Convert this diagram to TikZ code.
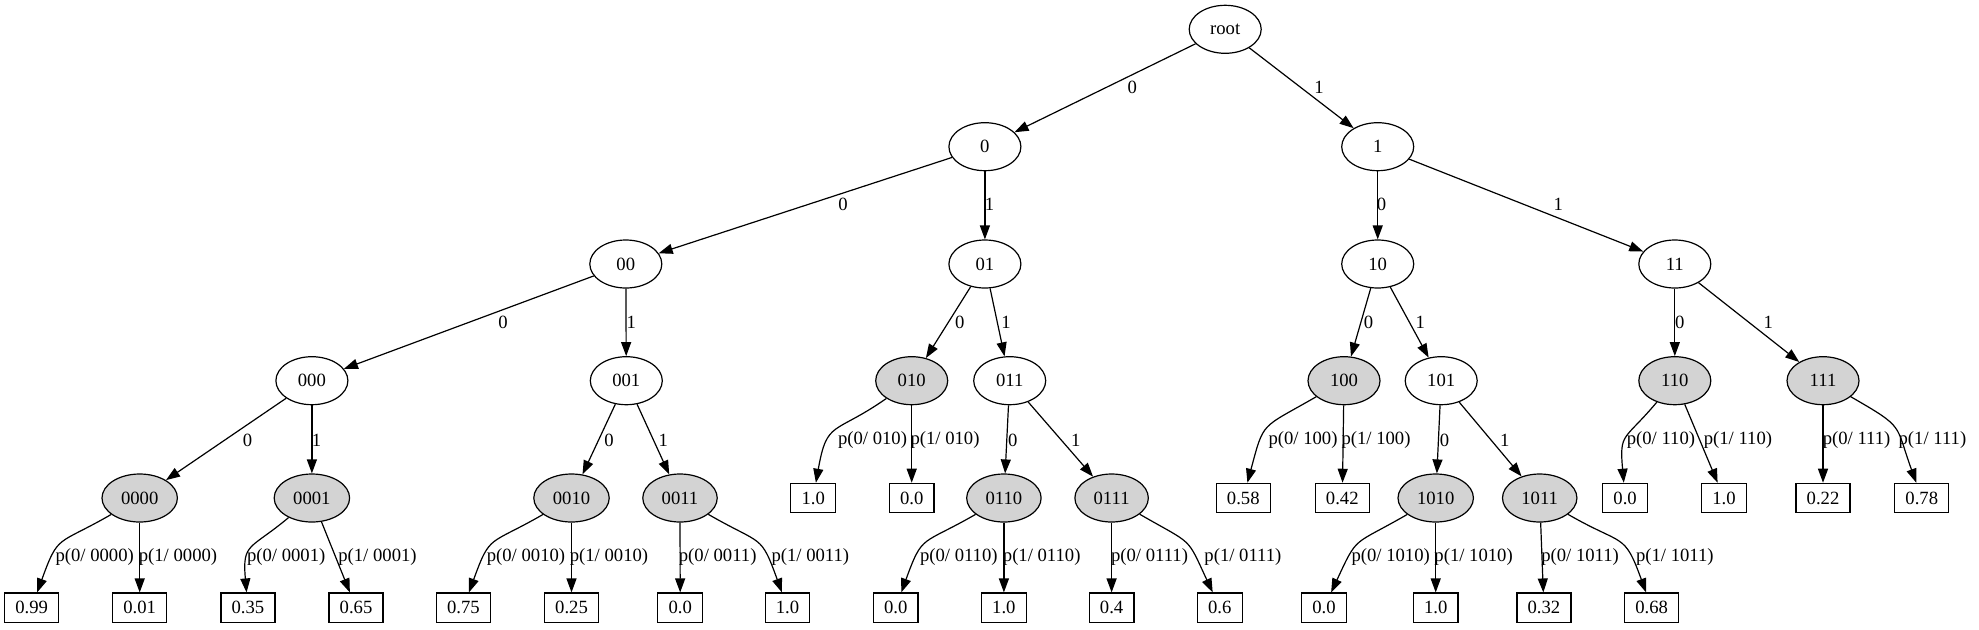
\documentclass[tikz,border=0pt]{standalone}
\usepackage{fontspec}
\setmainfont{Liberation Serif}
\usetikzlibrary{arrows.meta,shapes.geometric}
\definecolor{gvgray}{HTML}{D3D3D3}
\begin{document}
\begin{tikzpicture}[x=0.75pt,y=0.75pt,
  font=\fontsize{14pt}{16pt}\selectfont,
  st/.style={ellipse,draw,line width=0.9pt,minimum width=54pt,minimum height=36pt,inner xsep=6pt,inner ysep=0pt},
  gst/.style={st,fill=gvgray},
  leaf/.style={rectangle,draw,line width=0.9pt,minimum height=22pt,inner xsep=8pt,inner ysep=0pt},
  edge/.style={line width=0.9pt,-{Triangle[length=10.5pt,width=7.5pt]}},
  lbl/.style={inner sep=0pt}
]
\useasboundingbox (0,0) rectangle (1979,-629);
% level 0-3
\node[st] (root) at (1225.2,-29.3) {root};
\node[st] (n0) at (984.9,-146.7) {0};
\node[st] (n1) at (1377.7,-146.7) {1};
\node[st] (n00) at (625.8,-264) {00};
\node[st] (n01) at (984.9,-264) {01};
\node[st] (n10) at (1377.7,-264) {10};
\node[st] (n11) at (1674.8,-264) {11};
\node[st] (n000) at (311.9,-380.7) {000};
\node[st] (n001) at (626.3,-380.7) {001};
\node[gst] (n010) at (911.7,-380.7) {010};
\node[st] (n011) at (1009.7,-380.7) {011};
\node[gst] (n100) at (1344,-380.7) {100};
\node[st] (n101) at (1441.2,-380.7) {101};
\node[gst] (n110) at (1674.8,-380.7) {110};
\node[gst] (n111) at (1823,-380.7) {111};
% level 4
\node[gst] (n0000) at (139.7,-498) {0000};
\node[gst] (n0001) at (311.9,-498) {0001};
\node[gst] (n0010) at (571.5,-498) {0010};
\node[gst] (n0011) at (680,-498) {0011};
\node[gst] (n0110) at (1003.9,-498) {0110};
\node[gst] (n0111) at (1111.6,-498) {0111};
\node[gst] (n1010) at (1435.7,-498) {1010};
\node[gst] (n1011) at (1539.7,-498) {1011};
% boxes on level 4
\node[leaf] (b010a) at (813.2,-498) {1.0};
\node[leaf] (b010b) at (911.7,-498) {0.0};
\node[leaf] (b100a) at (1243.3,-498) {0.58};
\node[leaf] (b100b) at (1342.3,-498) {0.42};
\node[leaf] (b110a) at (1625.1,-498) {0.0};
\node[leaf] (b110b) at (1724,-498) {1.0};
\node[leaf] (b111a) at (1823,-498) {0.22};
\node[leaf] (b111b) at (1921.8,-498) {0.78};
% bottom boxes
\node[leaf] (b0000a) at (31.6,-607.7) {0.99};
\node[leaf] (b0000b) at (139.7,-607.7) {0.01};
\node[leaf] (b0001a) at (247.9,-607.7) {0.35};
\node[leaf] (b0001b) at (356,-607.7) {0.65};
\node[leaf] (b0010a) at (463.4,-607.7) {0.75};
\node[leaf] (b0010b) at (571.5,-607.7) {0.25};
\node[leaf] (b0011a) at (680.2,-607.7) {0.0};
\node[leaf] (b0011b) at (787.5,-607.7) {1.0};
\node[leaf] (b0110a) at (895.7,-607.7) {0.0};
\node[leaf] (b0110b) at (1003.9,-607.7) {1.0};
\node[leaf] (b0111a) at (1111.6,-607.7) {0.4};
\node[leaf] (b0111b) at (1219.8,-607.7) {0.6};
\node[leaf] (b1010a) at (1324,-607.7) {0.0};
\node[leaf] (b1010b) at (1435.7,-607.7) {1.0};
\node[leaf] (b1011a) at (1543.9,-607.7) {0.32};
\node[leaf] (b1011b) at (1651.6,-607.7) {0.68};
% straight edges
\foreach \a/\b in {root/n0,root/n1,n0/n00,n0/n01,n1/n10,n1/n11,
  n00/n000,n00/n001,n01/n010,n01/n011,n10/n100,n10/n101,n11/n110,n11/n111,
  n000/n0000,n000/n0001,n001/n0010,n001/n0011,n011/n0110,n011/n0111,
  n101/n1010,n101/n1011,
  n0000/b0000b,n0001/b0001b,n0010/b0010b,n0011/b0011a,n010/b010b,
  n0110/b0110b,n0111/b0111a,n100/b100b,n1010/b1010b,n1011/b1011a,
  n110/b110b,n111/b111a}
  {\draw[edge] (\a) -- (\b);}
% curved edges
\foreach \a/\b/\o/\i in {n0000/b0000a/210/70,n0001/b0001a/220/95,n0010/b0010a/210/70,
  n0011/b0011b/-30/110,n010/b010a/215/80,n0110/b0110a/210/70,n0111/b0111b/-30/115,
  n100/b100a/210/75,n110/b110a/230/95,n111/b111b/-30/110,n1010/b1010a/210/65,
  n1011/b1011b/-30/110}
  {\draw[edge] (\a) to[out=\o,in=\i,looseness=1.5] (\b);}
% edge labels
\node[lbl] (e1) at (1132.2,-87.3) {0};
\node[lbl] (e2) at (1319,-87.3) {1};
\node[lbl] (e3) at (843,-204) {0};
\node[lbl] (e4) at (989.5,-204) {1};
\node[lbl] (e5) at (1381.4,-204) {0};
\node[lbl] (e6) at (1558.2,-204) {1};
\node[lbl] (e7) at (503,-322.3) {0};
\node[lbl] (e8) at (631.3,-322.3) {1};
\node[lbl] (e9) at (959.7,-322.3) {0};
\node[lbl] (e10) at (1006,-322.3) {1};
\node[lbl] (e11) at (1368.4,-322.3) {0};
\node[lbl] (e12) at (1420.2,-322.3) {1};
\node[lbl] (e13) at (1679.8,-322.3) {0};
\node[lbl] (e14) at (1768.2,-322.3) {1};
\node[lbl] (e15) at (247.5,-440) {0};
\node[lbl] (e16) at (316.5,-440) {1};
\node[lbl] (e17) at (609,-440) {0};
\node[lbl] (e18) at (663.4,-440) {1};
\node[lbl] (e19) at (872.5,-440) {p(0/ 010)};
\node[lbl] (e20) at (945,-440) {p(1/ 010)};
\node[lbl] (e21) at (1012.7,-440) {0};
\node[lbl] (e22) at (1075.8,-440) {1};
\node[lbl] (e23) at (1303,-440) {p(0/ 100)};
\node[lbl] (e24) at (1376,-440) {p(1/ 100)};
\node[lbl] (e25) at (1444.6,-440) {0};
\node[lbl] (e26) at (1504.8,-440) {1};
\node[lbl] (e27) at (1660.9,-440) {p(0/ 110)};
\node[lbl] (e28) at (1737.9,-440) {p(1/ 110)};
\node[lbl] (e29) at (1856.6,-440) {p(0/ 111)};
\node[lbl] (e30) at (1932.4,-440) {p(1/ 111)};
\node[lbl] (e31) at (94.7,-557.3) {p(0/ 0000)};
\node[lbl] (e32) at (178,-557.3) {p(1/ 0000)};
\node[lbl] (e33) at (286.2,-557.3) {p(0/ 0001)};
\node[lbl] (e34) at (377.5,-557.3) {p(1/ 0001)};
\node[lbl] (e35) at (526,-557.3) {p(0/ 0010)};
\node[lbl] (e36) at (609,-557.3) {p(1/ 0010)};
\node[lbl] (e37) at (717.7,-557.3) {p(0/ 0011)};
\node[lbl] (e38) at (810.3,-557.3) {p(1/ 0011)};
\node[lbl] (e39) at (958.8,-557.3) {p(0/ 0110)};
\node[lbl] (e40) at (1041.7,-557.3) {p(1/ 0110)};
\node[lbl] (e41) at (1149.5,-557.3) {p(0/ 0111)};
\node[lbl] (e42) at (1242.9,-557.3) {p(1/ 0111)};
\node[lbl] (e43) at (1390.7,-557.3) {p(0/ 1010)};
\node[lbl] (e44) at (1473.6,-557.3) {p(1/ 1010)};
\node[lbl] (e45) at (1580.1,-557.3) {p(0/ 1011)};
\node[lbl] (e46) at (1674.8,-557.3) {p(1/ 1011)};
\end{tikzpicture}
\end{document}
